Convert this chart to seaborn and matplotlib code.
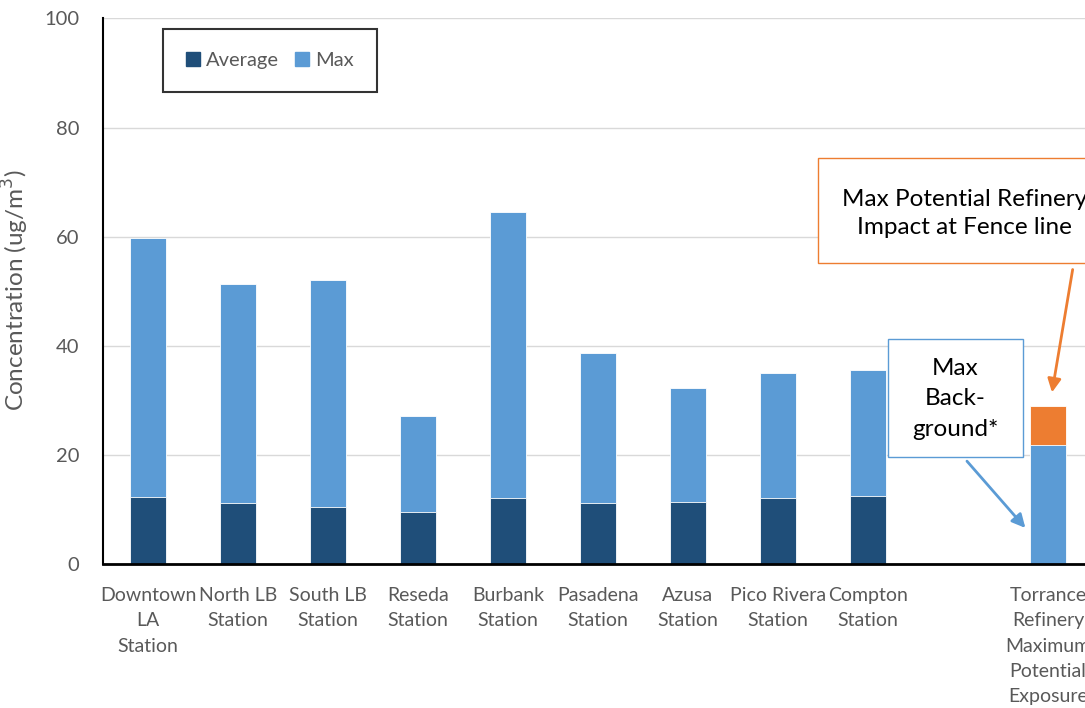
import pandas as pd
import matplotlib
matplotlib.use("Agg")
import matplotlib.pyplot as plt
import seaborn as sns
from matplotlib.patches import Patch, Rectangle

# data
stations = ["Downtown\nLA\nStation", "North LB\nStation", "South LB\nStation", "Reseda\nStation",
            "Burbank\nStation", "Pasadena\nStation", "Azusa\nStation", "Pico Rivera\nStation",
            "Compton\nStation", " ", "Torrance\nRefinery\nMaximum\nPotential\nExposure"]
max_vals = [59.8, 51.4, 52.1, 27.2, 64.5, 38.8, 32.4, 35.1, 35.6, 0, 21.8]
avg_vals = [12.4, 11.3, 10.6, 9.7, 12.1, 11.2, 11.5, 12.1, 12.6, 0, 0]
refinery_total = [0, 0, 0, 0, 0, 0, 0, 0, 0, 0, 29.1]

df = pd.DataFrame({"station": stations, "max": max_vals, "avg": avg_vals, "refinery": refinery_total})

c_avg = "#1F4E79"
c_max = "#5B9BD5"
c_ref = "#ED7D31"
gray = "#595959"

sns.set_style("white")
plt.rcParams["font.family"] = ["Lato", "DejaVu Sans"]

fig = plt.figure(figsize=(10.85, 7.08), dpi=100)
ax = fig.add_axes([0.0949, 0.2027, 0.9124, 0.7715])

# orange total, then max, then average drawn on top
sns.barplot(data=df, x="station", y="refinery", color=c_ref, width=0.4, order=stations,
            edgecolor="white", linewidth=0.6, saturation=1, ax=ax)
sns.barplot(data=df, x="station", y="max", color=c_max, width=0.4, order=stations,
            edgecolor="white", linewidth=0.6, saturation=1, ax=ax)
sns.barplot(data=df, x="station", y="avg", color=c_avg, width=0.4, order=stations,
            edgecolor="white", linewidth=0.6, saturation=1, ax=ax)

ax.set_xlim(-0.5, 10.5)
ax.set_ylim(0, 100)
ax.set_yticks([0, 20, 40, 60, 80, 100])
ax.yaxis.grid(True, color="#D9D9D9", linewidth=1)
ax.set_axisbelow(True)
for s in ["top", "right"]:
    ax.spines[s].set_visible(False)
ax.spines["left"].set_color("black")
ax.spines["left"].set_linewidth(1.5)
ax.spines["bottom"].set_color("black")
ax.spines["bottom"].set_linewidth(2)
ax.tick_params(axis="both", length=0, colors=gray)
ax.tick_params(axis="y", labelsize=14.5, pad=17)
ax.tick_params(axis="x", labelsize=14, pad=16)
for lbl in ax.get_xticklabels():
    lbl.set_linespacing(1.6)
ax.set_xlabel("")
ax.set_ylabel("Concentration (ug/m$^3$)", color=gray, fontsize=17.5)
ax.yaxis.set_label_coords(-0.073, 0.503)

handles = [Patch(color=c_avg, label="Average"), Patch(color=c_max, label="Max")]
leg = ax.legend(handles=handles, ncol=2, loc="upper left", bbox_to_anchor=(0.0606, 0.981),
                borderaxespad=0, frameon=True, fancybox=False, fontsize=14.5, handlelength=0.7,
                handleheight=0.7, handletextpad=0.3, columnspacing=0.8, borderpad=1.15,
                labelcolor=gray)
leg.get_frame().set_edgecolor("black")
leg.get_frame().set_linewidth(1.5)

# callout boxes
ax.add_patch(Rectangle((7.44, 55.2), 3.26, 19.2, facecolor="white", edgecolor=c_ref,
                       linewidth=1, clip_on=False, zorder=5))
ax.text(9.07, 64.3, "Max Potential Refinery\nImpact at Fence line", ha="center", va="center",
        fontsize=17.5, color="black", linespacing=1.4, zorder=6, clip_on=False)
ax.annotate("", xy=(10.04, 31.0), xytext=(10.28, 54.5),
            arrowprops=dict(arrowstyle="-|>", color=c_ref, lw=2, mutation_scale=20), zorder=6,
            annotation_clip=False)

ax.add_patch(Rectangle((8.22, 19.7), 1.5, 21.6, facecolor="white", edgecolor=c_max,
                       linewidth=1, zorder=5))
ax.text(8.97, 30.3, "Max\nBack-\nground*", ha="center", va="center",
        fontsize=17.5, color="black", linespacing=1.55, zorder=6)
ax.annotate("", xy=(9.77, 6.3), xytext=(9.08, 19.3),
            arrowprops=dict(arrowstyle="-|>", color=c_max, lw=2, mutation_scale=20), zorder=6)

fig.savefig("out.png", dpi=100)
